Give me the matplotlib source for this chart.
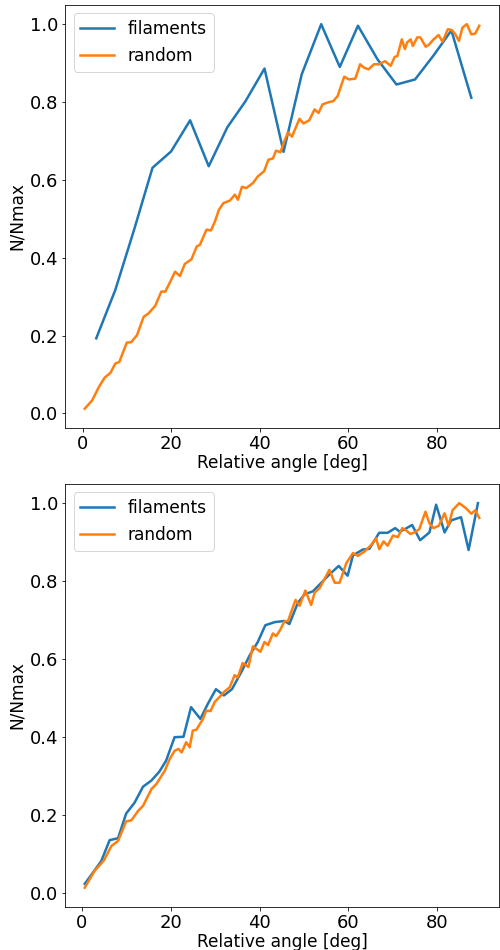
import numpy as np
import matplotlib
matplotlib.use('Agg')
import matplotlib.pyplot as plt

# ---------------------------------------------------------------------------
# Data (angle in deg, normalised counts)
# ---------------------------------------------------------------------------
# top panel
top_fil_x = [3.1, 7.4, 11.6, 15.8, 20.0, 24.3, 28.5, 32.7, 36.8, 41.1, 45.4,
             49.5, 53.9, 58.1, 62.2, 66.6, 70.9, 75.1, 79.3, 83.3, 87.8]
top_fil_y = [0.193, 0.317, 0.47, 0.631, 0.673, 0.753, 0.635, 0.735, 0.802,
             0.886, 0.672, 0.871, 1.0, 0.890, 0.996, 0.910, 0.845, 0.858,
             0.92, 0.984, 0.811]

top_rnd_x = [0.5, 2.2, 3.7, 5.0, 6.3, 7.4, 8.3, 10.0, 11.0, 12.3, 13.8, 14.9,
             16.4, 17.8, 18.7, 19.8, 20.9, 22.0, 23.1, 24.6, 25.8, 26.5, 28.0,
             29.0, 29.9, 30.8, 31.8, 33.3, 34.4, 35.1, 36.0, 37.0, 38.5, 39.6,
             41.0, 42.0, 43.0, 43.7, 44.7, 45.6, 46.4, 47.3, 49.0, 49.9, 51.2,
             52.4, 53.3, 54.2, 55.7, 56.6, 57.6, 59.1, 60.2, 61.6, 62.7, 63.6,
             64.6, 65.8, 67.0, 68.3, 69.6, 70.5, 71.1, 72.1, 72.8, 73.3, 74.1,
             74.6, 75.6, 76.3, 77.5, 78.2, 79.3, 80.4, 81.3, 82.5, 83.4, 84.2,
             85.0, 85.8, 86.8, 87.8, 88.7, 89.6]
top_rnd_y = [0.012, 0.034, 0.068, 0.092, 0.104, 0.128, 0.132, 0.182, 0.183,
             0.201, 0.248, 0.257, 0.276, 0.313, 0.313, 0.338, 0.364, 0.353,
             0.384, 0.396, 0.429, 0.433, 0.472, 0.470, 0.493, 0.523, 0.540,
             0.547, 0.562, 0.549, 0.582, 0.579, 0.592, 0.609, 0.622, 0.652,
             0.655, 0.675, 0.671, 0.700, 0.722, 0.711, 0.757, 0.745, 0.753,
             0.781, 0.772, 0.794, 0.800, 0.802, 0.815, 0.865, 0.858, 0.860,
             0.897, 0.888, 0.884, 0.897, 0.897, 0.905, 0.893, 0.916, 0.918,
             0.961, 0.936, 0.953, 0.961, 0.944, 0.966, 0.966, 0.942, 0.947,
             0.961, 0.972, 0.955, 0.987, 0.985, 0.974, 0.957, 0.991, 1.0,
             0.974, 0.976, 0.996]

# bottom panel
bot_fil_x = [0.7, 2.5, 4.4, 6.3, 8.2, 10.0, 11.9, 13.8, 15.7, 17.5, 19.0,
             20.9, 22.9, 24.6, 26.7, 28.4, 30.2, 32.0, 33.8, 35.9, 37.8, 39.6,
             41.3, 43.4, 45.6, 46.7, 48.6, 50.1, 52.0, 53.9, 55.7, 57.8, 59.8,
             61.0, 63.2, 64.7, 66.9, 68.8, 70.5, 71.5, 72.6, 74.3, 76.1, 78.2,
             79.7, 81.6, 83.1, 85.3, 87.0, 89.1]
bot_fil_y = [0.024, 0.052, 0.082, 0.136, 0.141, 0.204, 0.232, 0.273, 0.289,
             0.312, 0.340, 0.400, 0.401, 0.477, 0.447, 0.486, 0.523, 0.507,
             0.523, 0.567, 0.610, 0.644, 0.687, 0.695, 0.698, 0.690, 0.744,
             0.766, 0.774, 0.796, 0.817, 0.839, 0.814, 0.866, 0.881, 0.883,
             0.924, 0.924, 0.936, 0.927, 0.933, 0.944, 0.905, 0.925, 0.996,
             0.925, 0.956, 0.964, 0.880, 1.0]

bot_rnd_x = [0.7, 2.9, 5.0, 6.7, 8.2, 10.0, 11.2, 12.7, 13.8, 15.7, 16.8, 18.7,
             19.8, 20.9, 21.8, 22.5, 23.5, 24.3, 25.0, 25.8, 27.3, 28.0, 29.0,
             29.9, 31.0, 32.0, 33.3, 34.4, 35.1, 36.2, 37.5, 38.5, 40.2, 41.1,
             41.9, 43.0, 43.7, 44.6, 45.6, 46.4, 48.1, 49.0, 50.3, 51.6, 52.4,
             53.5, 55.7, 56.9, 58.0, 59.5, 61.0, 62.1, 63.6, 65.1, 66.2, 66.9,
             67.9, 68.8, 70.0, 71.1, 72.1, 73.0, 73.9, 74.8, 75.9, 77.3, 78.2,
             79.1, 80.3, 81.6, 82.5, 83.4, 84.9, 86.4, 87.6, 88.5, 89.4]
bot_rnd_y = [0.014, 0.057, 0.084, 0.121, 0.134, 0.184, 0.187, 0.211, 0.224,
             0.267, 0.280, 0.314, 0.344, 0.365, 0.370, 0.361, 0.387, 0.374,
             0.417, 0.419, 0.447, 0.468, 0.467, 0.490, 0.503, 0.516, 0.528,
             0.559, 0.553, 0.590, 0.580, 0.633, 0.619, 0.644, 0.636, 0.666,
             0.659, 0.674, 0.697, 0.698, 0.752, 0.737, 0.776, 0.739, 0.771,
             0.782, 0.829, 0.796, 0.796, 0.846, 0.872, 0.865, 0.876, 0.893,
             0.910, 0.882, 0.902, 0.891, 0.917, 0.913, 0.936, 0.930, 0.921,
             0.925, 0.933, 0.978, 0.948, 0.936, 0.942, 0.974, 0.942, 0.982,
             1.0, 0.987, 0.973, 0.982, 0.962]

# ---------------------------------------------------------------------------
# Figure (72 dpi so that points == pixels)
# ---------------------------------------------------------------------------
DPI = 72
fig = plt.figure(figsize=(500 / DPI, 950 / DPI), dpi=DPI)
ax_top = fig.add_axes([0.13, 0.5495, 0.868, 0.4453])
ax_bot = fig.add_axes([0.13, 0.0453, 0.868, 0.4453])

panels = [
    (ax_top, top_fil_x, top_fil_y, top_rnd_x, top_rnd_y),
    (ax_bot, bot_fil_x, bot_fil_y, bot_rnd_x, bot_rnd_y),
]
for ax, fx, fy, rx, ry in panels:
    ax.plot(fx, fy, color='#1f77b4', linewidth=2.5, label='filaments')
    ax.plot(rx, ry, color='#ff7f0e', linewidth=2.5, label='random')
    ax.set_xlabel('Relative angle [deg]', fontsize=17, labelpad=1)
    ax.set_ylabel('N/Nmax', fontsize=17, labelpad=4)
    ax.set_xticks([0, 20, 40, 60, 80])
    ax.set_yticks([0.0, 0.2, 0.4, 0.6, 0.8, 1.0])
    ax.tick_params(labelsize=18)
    ax.legend(loc='upper left', fontsize=17)

plt.savefig('out.png', dpi=DPI)
plt.close()
